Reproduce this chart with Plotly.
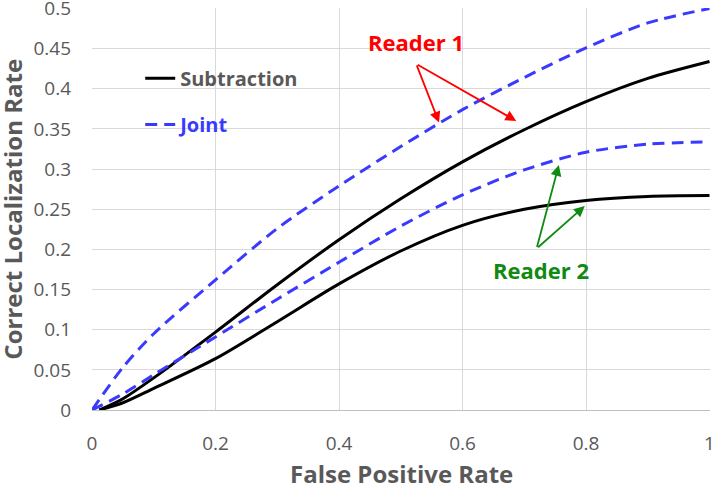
import plotly.graph_objects as go

# Data
fpr = [0.0, 0.05, 0.1, 0.2, 0.3, 0.4, 0.5, 0.6, 0.7, 0.8, 0.9, 1.0]
r1_joint = [0.0, 0.053, 0.095, 0.162, 0.226, 0.279, 0.328, 0.374, 0.414, 0.451, 0.482, 0.5]
r2_joint = [0.0, 0.02, 0.044, 0.091, 0.138, 0.184, 0.229, 0.268, 0.299, 0.321, 0.331, 0.334]

fpr_sub = [0.012, 0.05, 0.1, 0.2, 0.3, 0.4, 0.5, 0.6, 0.7, 0.8, 0.9, 1.0]
r1_sub = [0.0, 0.014, 0.04, 0.097, 0.156, 0.212, 0.263, 0.309, 0.349, 0.384, 0.413, 0.434]
r2_sub = [0.0, 0.009, 0.027, 0.064, 0.11, 0.157, 0.198, 0.23, 0.25, 0.261, 0.266, 0.267]

x_ticks = [0, 0.2, 0.4, 0.6, 0.8, 1]
x_tick_text = ["0", "0.2", "0.4", "0.6", "0.8", "1"]
y_ticks = [0, 0.05, 0.1, 0.15, 0.2, 0.25, 0.3, 0.35, 0.4, 0.45, 0.5]
y_tick_text = ["0", "0.05", "0.1", "0.15", "0.2", "0.25", "0.3", "0.35", "0.4", "0.45", "0.5"]

x_title = "False Positive Rate"
y_title = "Correct Localization Rate"

BLUE = "#3a3aff"
GRAY = "#595959"
RED = "#ff0000"
GREEN = "#118a11"
FONT = "Open Sans"

fig = go.Figure()
fig.add_trace(go.Scatter(x=fpr_sub, y=r1_sub, mode="lines", name="<b>Subtraction</b>",
                         line=dict(color="black", width=3, shape="spline", smoothing=0.8),
                         legend="legend"))
fig.add_trace(go.Scatter(x=fpr_sub, y=r2_sub, mode="lines", name="Subtraction",
                         line=dict(color="black", width=3, shape="spline", smoothing=0.8),
                         showlegend=False))
fig.add_trace(go.Scatter(x=fpr, y=r1_joint, mode="lines",
                         name="<b>Joint</b>",
                         line=dict(color=BLUE, width=3, dash="12px,7px", shape="spline", smoothing=0.8),
                         legend="legend2"))
fig.add_trace(go.Scatter(x=fpr, y=r2_joint, mode="lines", name="Joint",
                         line=dict(color=BLUE, width=3, dash="12px,7px", shape="spline", smoothing=0.8),
                         showlegend=False))

arrow_common = dict(xref="x", yref="y", axref="x", ayref="y", showarrow=True,
                    arrowhead=2, arrowsize=1.2, arrowwidth=1.8, text="")
annotations = [
    dict(x=0.525, y=0.458, text="<b>Reader 1</b>", showarrow=False,
         font=dict(family=FONT, size=22, color=RED)),
    dict(x=0.562, y=0.358, ax=0.525, ay=0.431, arrowcolor=RED, **arrow_common),
    dict(x=0.687, y=0.36, ax=0.525, ay=0.431, arrowcolor=RED, **arrow_common),
    dict(x=0.727, y=0.174, text="<b>Reader 2</b>", showarrow=False,
         font=dict(family=FONT, size=22, color=GREEN)),
    dict(x=0.756, y=0.305, ax=0.72, ay=0.201, arrowcolor=GREEN, **arrow_common),
    dict(x=0.798, y=0.254, ax=0.72, ay=0.201, arrowcolor=GREEN, **arrow_common),
    # axis titles
    dict(xref="paper", yref="paper", x=0.5, y=-0.157, xanchor="center", yanchor="middle",
         text=f"<b>{x_title}</b>", showarrow=False,
         font=dict(family=FONT, size=24, color=GRAY)),
    dict(xref="paper", yref="paper", x=-0.130, y=0.5, xanchor="center", yanchor="middle",
         text=f"<b>{y_title}</b>", showarrow=False, textangle=-90,
         font=dict(family=FONT, size=24, color=GRAY)),
]

fig.update_layout(
    width=714, height=484,
    margin=dict(l=92, r=4, t=8, b=74),
    plot_bgcolor="white", paper_bgcolor="white",
    font=dict(family=FONT, color=GRAY),
    annotations=annotations,
    legend=dict(x=0.078, y=0.825, xanchor="left", yanchor="middle",
                bgcolor="rgba(0,0,0,0)", font=dict(size=20, color=GRAY, family=FONT),
                itemwidth=30),
    legend2=dict(x=0.078, y=0.71, xanchor="left", yanchor="middle",
                 bgcolor="rgba(0,0,0,0)", font=dict(size=20, color=BLUE, family=FONT),
                 itemwidth=30),
    xaxis=dict(range=[0, 1.0008], tickvals=x_ticks, ticktext=x_tick_text,
               showgrid=True, gridcolor="#d9d9d9", gridwidth=1, zeroline=False,
               showline=True, linecolor="#bfbfbf", linewidth=1, automargin=False,
               ticks="", ticklabelstandoff=16, ticklabeloverflow="allow",
               tickfont=dict(size=19, color=GRAY, family=FONT)),
    yaxis=dict(range=[0, 0.5006], tickvals=y_ticks, ticktext=y_tick_text,
               showgrid=True, gridcolor="#d9d9d9", gridwidth=1, zeroline=False,
               showline=False, ticks="", ticklabelstandoff=20, automargin=False,
               ticklabeloverflow="allow",
               tickfont=dict(size=19, color=GRAY, family=FONT)),
)

fig.write_html("out.html", config={"displayModeBar": False},
               post_script="document.body.style.margin='0';document.body.style.padding='0';")
